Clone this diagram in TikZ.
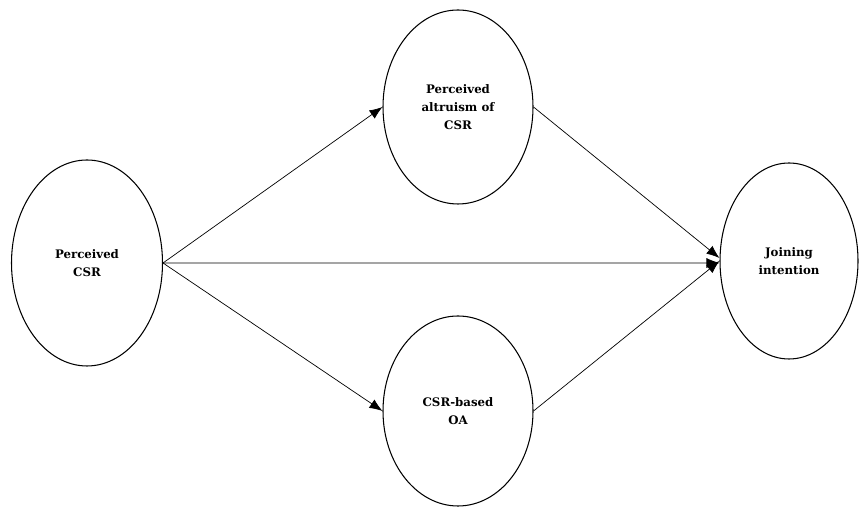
\documentclass[tikz,border=0pt]{standalone}
\usepackage{fontspec}
\setmainfont{DejaVu Serif}
\usetikzlibrary{shapes,arrows.meta,positioning}
\tikzset{
    -{Latex[length=2.6mm,width=2mm]},thick,
    construct/.style ={ellipse, draw, semithick, inner sep=0pt, align=center,
        font=\bfseries\fontsize{6.7}{10.2}\selectfont},
}
\begin{document}
\begin{tikzpicture}
    \useasboundingbox (0,0) rectangle (17.18,10.14);
    \node[construct, minimum width=3.02cm, minimum height=4.12cm] (pcsr) at (1.74,4.88) {Perceived\\CSR};
    \node[construct, minimum width=3cm, minimum height=3.88cm] (alt) at (9.16,8.0) {Perceived\\altruism of\\CSR};
    \node[construct, minimum width=3cm, minimum height=3.8cm] (oa) at (9.16,1.92) {CSR-based\\OA};
    \node[construct, minimum width=2.76cm, minimum height=3.92cm] (join) at (15.78,4.92) {Joining\\intention};

    \draw (pcsr.east) -- (alt.west);
    \draw (pcsr.east) -- (oa.west);
    \draw (pcsr.east) -- ([yshift=-0.04cm]join.west);
    \draw (alt.east) -- ([yshift=0.06cm]join.west);
    \draw (oa.east) -- (join.west);
\end{tikzpicture}
\end{document}
